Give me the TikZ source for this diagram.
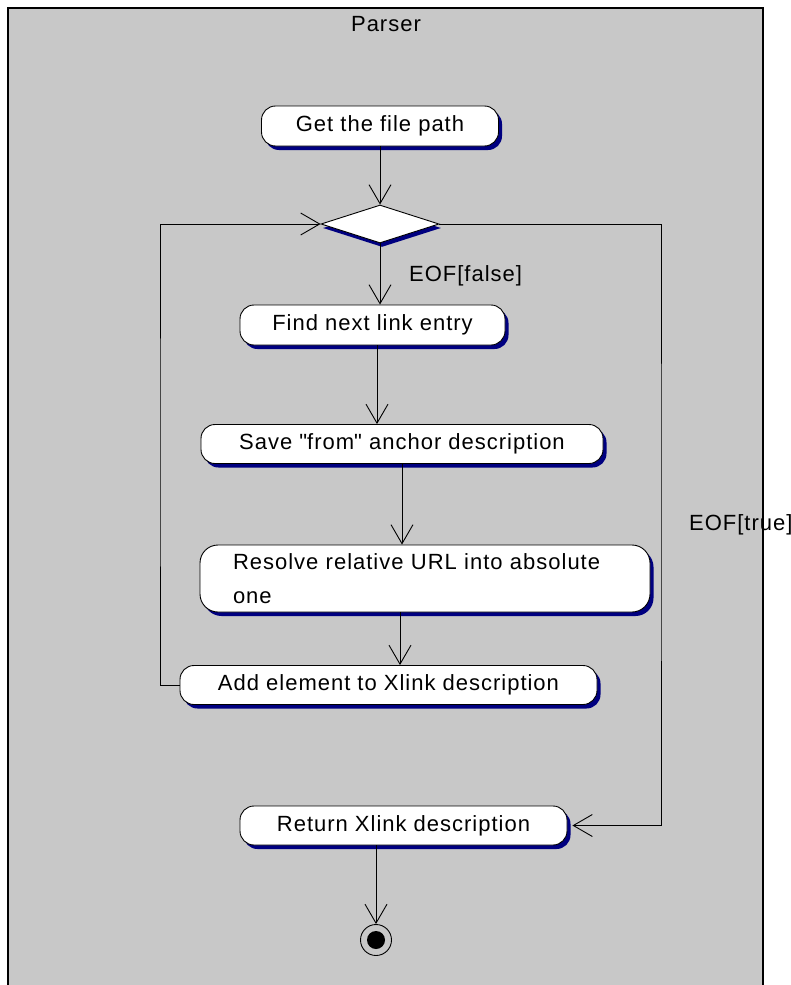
\documentclass[tikz,border=0pt]{standalone}
\usepackage{fontspec}
\setmainfont[LetterSpace=4.5]{Liberation Sans}
\usetikzlibrary{arrows.meta,shapes.geometric,shadows}
\definecolor{bggray}{RGB}{200,200,200}
\definecolor{navyc}{RGB}{0,0,128}
\newcommand\myquote{\XeTeXglyph\XeTeXcharglyph"22\relax}
\tikzset{
  act/.style={rectangle, rounded corners=14pt, draw=black, line width=0.9pt, fill=white,
    inner sep=0pt, minimum height=40pt,
    drop shadow={shadow xshift=3.5pt, shadow yshift=-4pt, fill=navyc, opacity=1}},
  dec/.style={diamond, draw=black, line width=0.9pt, fill=white, inner sep=0pt,
    minimum width=118pt, minimum height=38pt,
    drop shadow={shadow xshift=2pt, shadow yshift=-4pt, fill=navyc, opacity=1}},
  conn/.style={line width=1pt, draw=black},
  arr/.style={conn, -{Straight Barb[length=19pt, width=22pt, line width=0.9pt]}},
  lbl/.style={inner sep=0pt, anchor=west}
}
\begin{document}
\begin{tikzpicture}[x=1pt, y=-1pt, font=\fontsize{22}{34}\selectfont]
\useasboundingbox (0,0) rectangle (791,985);
\begin{scope}
\clip (0,0) rectangle (791,985);
\fill[white] (0,0) rectangle (791,985);
\draw[fill=bggray, line width=1.2pt] (8,8) rectangle (763,1000);
\end{scope}
\node[inner sep=0pt] (title) at (386,24) {Parser};

\node[act, minimum width=237pt] (get) at (380,126) {Get the file path};
\node[dec] (dia) at (380,224) {};
\node[act, minimum width=265pt] (find) at (372.5,325) {Find next link entry};
\node[act, minimum width=402pt, minimum height=39pt] (save) at (402,444) {Save \myquote from\myquote{} anchor description};
\node[act, rounded corners=18pt, minimum width=450pt, minimum height=67pt, text width=384pt,
  inner xsep=33pt, align=left] (res) at (425,578.5) {Resolve relative URL into absolute\\one};
\node[act, minimum width=417pt, minimum height=39pt] (add) at (388.5,685) {Add element to Xlink description};
\node[act, minimum width=327pt, minimum height=39pt] (ret) at (403.5,825.5) {Return Xlink description};
\node[circle, draw=black, line width=0.9pt, minimum size=31pt, inner sep=0pt,
  path picture={\fill[black] (path picture bounding box.center) circle (9pt);}] (fin) at (376,940) {};

\coordinate (L) at (160,450);
\coordinate (R) at (661,500);

\draw[arr] (get.south) -- (dia.north);
\draw[arr] (dia.south) -- (dia.south |- find.north);
\node[lbl] (lf) at (409,276) {EOF[false]};
\draw[arr] ([xshift=4.5pt]find.south) -- ([xshift=4.5pt]find.south |- save.north);
\draw[arr] (save.south) -- (save.south |- res.north);
\draw[arr] ([xshift=-25pt]res.south) -- ([xshift=-25pt]res.south |- add.north);
\draw[arr] (add.west) -| (L) |- (dia.west);
\draw[arr] (dia.east) -| (R) |- ([xshift=5pt]ret.east);
\draw[arr] ([xshift=-27.5pt]ret.south) -- (fin.north);
\node[lbl] (lt) at (689,525) {EOF[true]};
\draw[line width=1.2pt] (763,500) -- (763,560);
\end{tikzpicture}
\end{document}
